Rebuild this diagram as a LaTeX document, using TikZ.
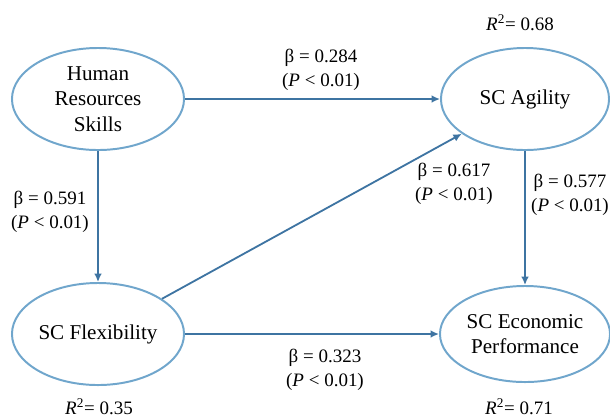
\documentclass[tikz,border=0pt]{standalone}
\usepackage{fontspec}
\setmainfont{Liberation Serif}
\usetikzlibrary{arrows.meta,shapes.geometric}
\definecolor{ringblue}{RGB}{112,166,204}
\definecolor{linkblue}{RGB}{62,116,162}
\begin{document}
\begin{tikzpicture}[x=0.025cm, y=-0.025cm,
    construct/.style={draw=ringblue, line width=1.4pt, ellipse, inner sep=0pt,
        minimum width=4.3cm, minimum height=2.55cm, align=center,
        font=\fontsize{15}{18}\selectfont},
    coef/.style={align=center, inner sep=0pt, font=\fontsize{13.5}{17.5}\selectfont},
    link/.style={draw=linkblue, line width=1.3pt, -{Latex[length=6pt,width=5.5pt]}}]
    \useasboundingbox (0,0) rectangle (610,417);
    \node[construct] (hrs) at (98,99) {Human\\Resources\\Skills};
    \node[construct, minimum width=4.2cm] (agil) at (525,99) {SC Agility};
    \node[construct] (flex) at (98,334) {SC Flexibility};
    \node[construct, minimum width=4.25cm, minimum height=2.4cm] (econ) at (525,334) {SC Economic\\Performance};
    \node[coef] (b1) at (321,70) {β = 0.284\\(\textit{P} < 0.01)};
    \node[coef] (b2) at (50,212) {β = 0.591\\(\textit{P} < 0.01)};
    \node[coef] (b3) at (454,184) {β = 0.617\\(\textit{P} < 0.01)};
    \node[coef] (b4) at (570,195) {β = 0.577\\(\textit{P} < 0.01)};
    \node[coef] (b5) at (325,370) {β = 0.323\\(\textit{P} < 0.01)};
    \node[coef] (r1) at (520,23) {\textit{R}\textsuperscript{2}= 0.68};
    \node[coef] (r2) at (99,407) {\textit{R}\textsuperscript{2}= 0.35};
    \node[coef] (r3) at (519,407) {\textit{R}\textsuperscript{2}= 0.71};
    \draw [link] (hrs) -- (agil);
    \draw [link] (hrs) -- (flex);
    \draw [link] (flex) -- (agil);
    \draw [link] (agil) -- (econ);
    \draw [link] (flex) -- (econ);
\end{tikzpicture}
\end{document}
